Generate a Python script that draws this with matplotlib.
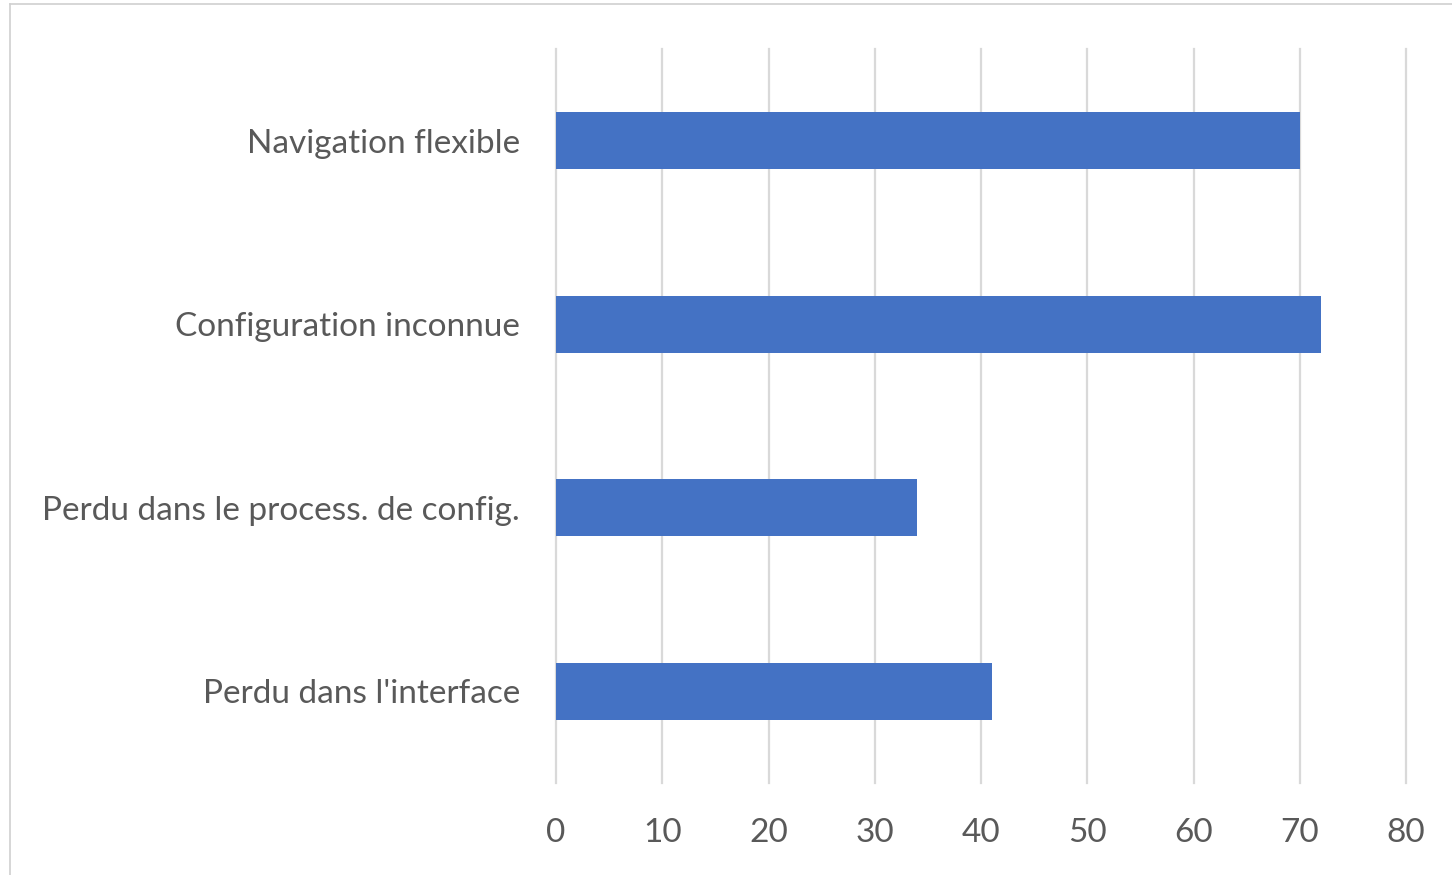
import matplotlib.pyplot as plt
from matplotlib.lines import Line2D

categories = ["Navigation flexible", "Configuration inconnue",
              "Perdu dans le process. de config.", "Perdu dans l'interface"]
values = [70, 72, 34, 41]
xticks = [0, 10, 20, 30, 40, 50, 60, 70, 80]

plt.rcParams['font.family'] = ['Lato', 'DejaVu Sans']

W, H = 1452, 875
fig = plt.figure(figsize=(W / 100, H / 100), dpi=100)
ax = fig.add_axes([556 / W, (H - 783) / H, 850 / W, 734 / H])

ypos = list(range(len(categories)))
ax.barh(ypos, values, height=0.31, color='#4472C4', zorder=3)
ax.set_ylim(len(categories) - 0.5, -0.5)
ax.set_yticks(ypos)
ax.set_yticklabels(categories)
ax.set_xlim(0, 80)
ax.set_xticks(xticks)

ax.grid(axis='x', color='#d9d9d9', linewidth=1.6, zorder=0)
for gl in ax.get_xgridlines():
    gl.set_clip_on(False)
for s in ax.spines.values():
    s.set_visible(False)
ax.tick_params(axis='both', length=0, colors='#595959', labelsize=24)
ax.tick_params(axis='x', pad=25)
ax.tick_params(axis='y', pad=26)

# thin frame around the chart area
fig.add_artist(Line2D([10 / W, 1.0], [1 - 4 / H, 1 - 4 / H], color='#d0d0d0', lw=1.2))
fig.add_artist(Line2D([10 / W, 10 / W], [0.0, 1 - 4 / H], color='#d0d0d0', lw=1.2))

fig.savefig('out.png', dpi=100)
